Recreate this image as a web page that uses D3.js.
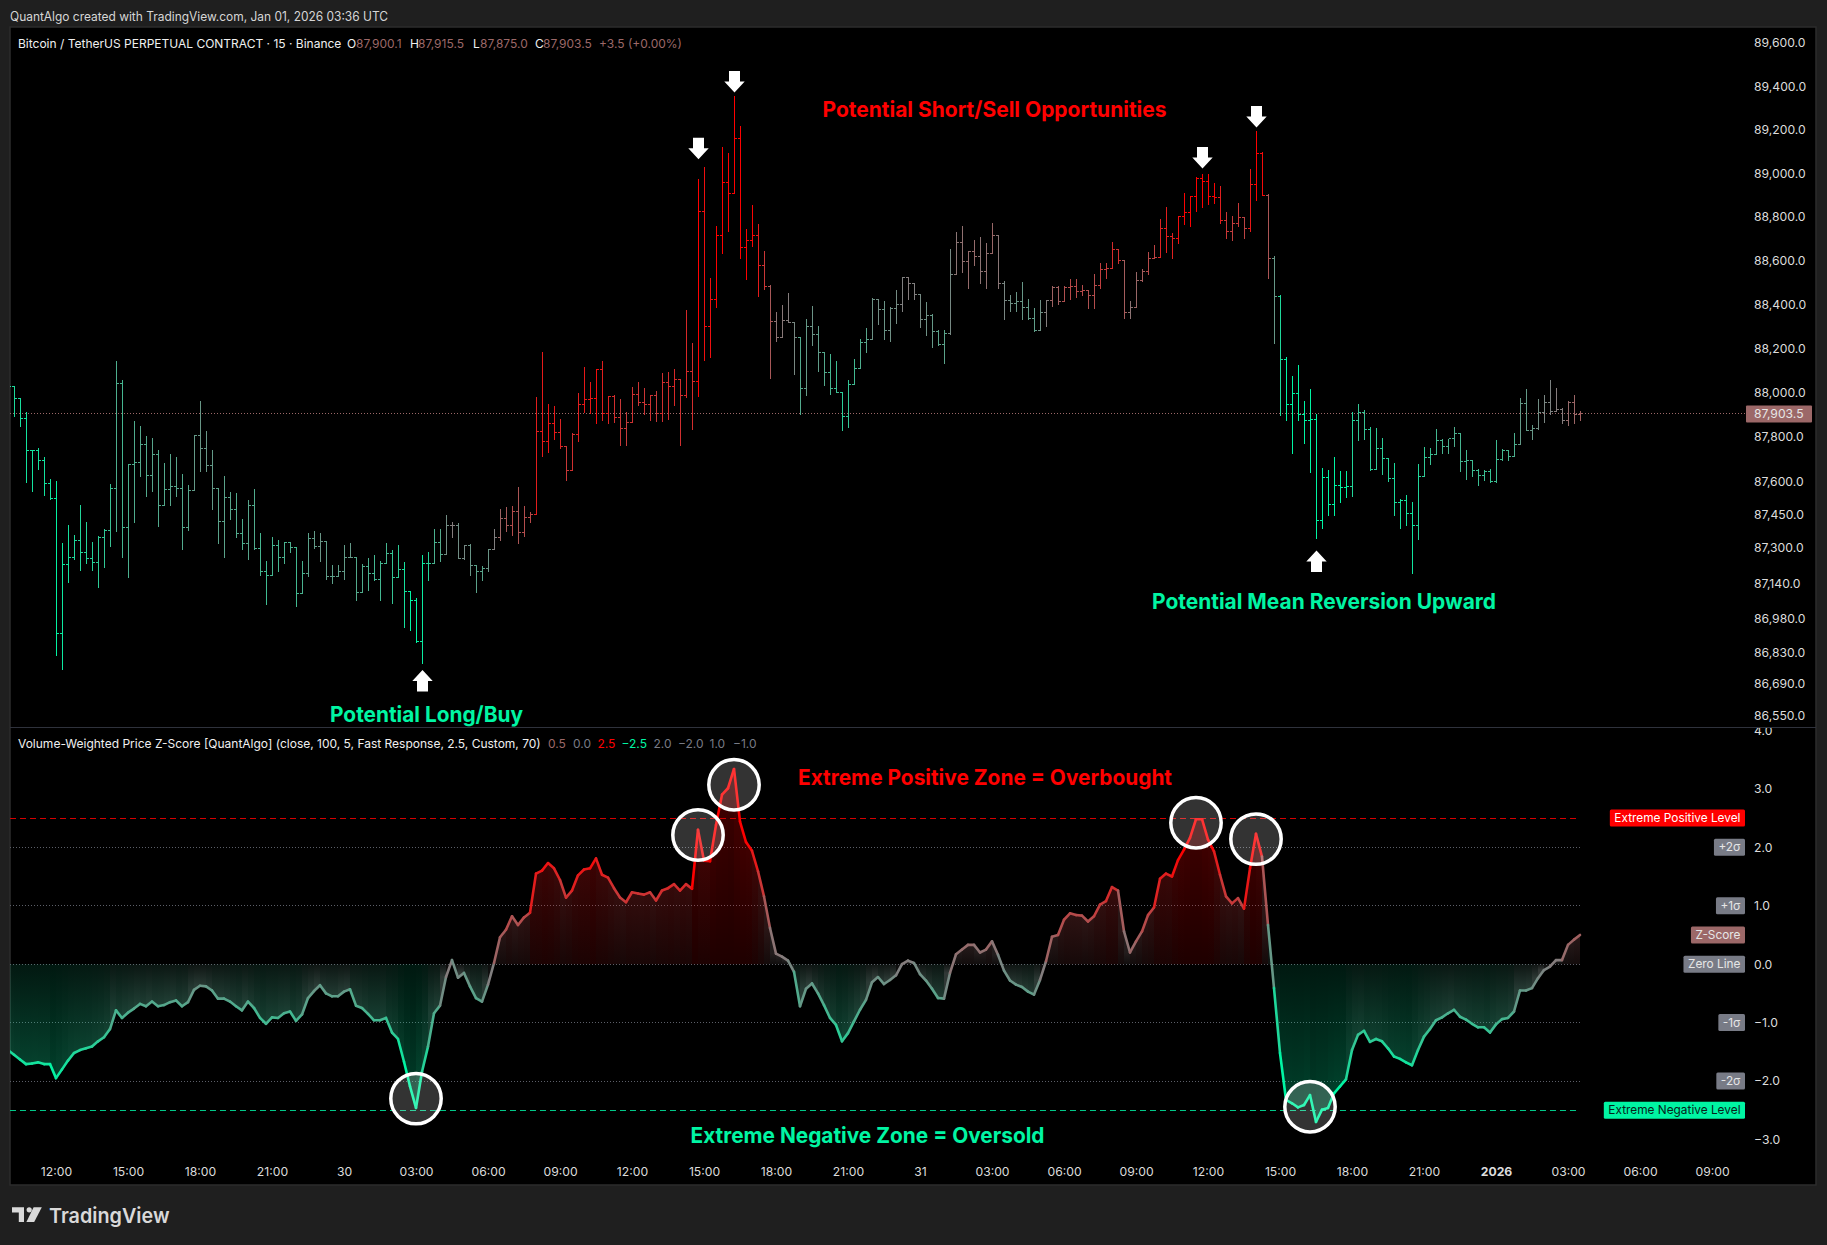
<!DOCTYPE html>
<html>
<head>
<meta charset="utf-8">
<title>BTCUSDT.P with Volume-Weighted Price Z-Score</title>
<script src="https://d3js.org/d3.v7.min.js"></script>
<style>
  html, body { margin: 0; padding: 0; background: #1f1f1f; }
  svg { display: block; font-family: Inter, Roboto, "Noto Sans", sans-serif; }
</style>
</head>
<body>
<svg id="chart" width="1827" height="1245"></svg>
<script>
// 15-minute bars, one row per ten bars
const opens = [
88010,88030,87974,87884,87740,87736,87694,87590,87522,86916,
87225,87257,87333,87279,87252,87234,87347,87378,87567,88042,
87392,87676,87685,87766,87626,87721,87488,87563,87575,87567,
87392,87557,87805,87748,87671,87566,87417,87527,87470,87365,
87320,87491,87295,87194,87176,87311,87257,87324,87302,87095,
87185,87342,87305,87329,87170,87170,87194,87257,87257,87101,
87215,87185,87158,87227,87275,87167,87203,87104,87065,86879,
87230,87230,87324,87270,87401,87401,87252,87309,87221,87194,
87206,87291,87347,87432,87398,87465,87369,87437,87450,87826,
87781,87861,87820,87755,87647,87811,87947,87970,87974,88106,
87906,87981,87886,87838,87865,87992,87956,87947,87985,87906,
88047,88030,88060,87986,88097,88051,88825,88299,88424,88716,
88958,88909,89160,88659,88693,88713,88579,88481,88324,88251,
88328,88319,88251,88020,88301,88263,88183,88092,88020,88001,
87893,88038,88110,88228,88240,88421,88378,88280,88380,88401,
88522,88494,88447,88333,88349,88278,88217,88267,88535,88684,
88595,88643,88619,88551,88634,88716,88497,88419,88406,88415,
88387,88336,88280,88365,88419,88479,88412,88479,88483,88460,
88465,88442,88488,88561,88565,88652,88602,88365,88386,88510,
88550,88611,88613,88748,88711,88702,88801,88818,88891,88977,
88963,88894,88888,88784,88731,88769,88799,88748,88947,89092,
88900,88611,88437,88151,87944,87997,87902,87875,87879,87423,
87617,87495,87581,87573,87576,87875,87911,87835,87653,87748,
87700,87613,87504,87512,87455,87401,87623,87707,87719,87782,
87757,87791,87817,87689,87691,87650,87626,87645,87596,87698,
87740,87710,87767,87952,87828,87836,87908,87957,87913,87924,
87875,87957,87900.1];

const highs = [
88030,88030,87974,87911,87740,87748,87707,87608,87599,87320,
87398,87357,87492,87414,87324,87349,87380,87585,88143,88057,
87676,87871,87845,87803,87793,87736,87680,87722,87707,87632,
87581,87808,87961,87826,87740,87566,87623,87549,87545,87428,
87512,87560,87365,87240,87348,87332,87324,87324,87302,87236,
87362,87375,87365,87329,87222,87222,87308,87320,87257,87225,
87252,87263,87240,87320,87286,87308,87233,87104,87073,87267,
87279,87384,87384,87447,87414,87410,87312,87315,87221,87215,
87294,87384,87474,87480,87484,87572,87484,87459,87979,88183,
87944,87939,87880,87755,87813,87994,88115,88045,88106,88143,
87981,87989,87971,87911,88024,88048,88020,87985,88004,88087,
88090,88107,88060,88375,88221,88969,89028,88519,88757,89119,
89091,89350,89216,88744,88854,88763,88641,88488,88366,88397,
88451,88319,88251,88333,88389,88302,88183,88174,88139,88001,
88057,88148,88242,88293,88427,88421,88415,88387,88462,88524,
88519,88494,88447,88410,88356,88280,88281,88652,88729,88754,
88643,88693,88708,88679,88772,88716,88507,88443,88453,88501,
88425,88383,88419,88419,88480,88480,88481,88512,88516,88488,
88465,88539,88589,88589,88684,88652,88602,88416,88544,88561,
88638,88671,88786,88845,88725,88803,88909,88895,88981,88996,
88992,88955,88937,88818,88804,88859,88799,89019,89189,89096,
88903,88621,88440,88160,88075,88121,87962,88016,87902,87658,
87650,87707,87642,87645,87911,87944,87917,87843,87838,87794,
87703,87680,87515,87533,87504,87676,87752,87745,87834,87789,
87790,87843,87817,87736,87695,87654,87647,87653,87785,87743,
87740,87813,87974,88016,87853,87971,87985,88057,88020,87927,
87959,87989,87915.5];

const lows = [
87966,87891,87845,87593,87552,87654,87537,87515,86819,86755,
87143,87245,87197,87227,87197,87122,87210,87305,87372,87255,
87165,87412,87623,87530,87552,87394,87488,87492,87530,87294,
87376,87557,87642,87642,87470,87317,87255,87425,87345,87294,
87249,87290,87174,87043,87174,87192,87227,87279,87035,87095,
87170,87297,87237,87159,87140,87170,87159,87257,87065,87101,
87107,87155,87065,87227,87050,87167,86941,86928,86876,86782,
87152,87230,87240,87270,87345,87252,87245,87177,87098,87151,
87192,87290,87332,87372,87353,87318,87349,87412,87450,87713,
87728,87789,87748,87602,87647,87778,87908,87906,87858,87873,
87858,87865,87763,87763,87864,87941,87899,87876,87868,87868,
87879,87941,87763,87976,87835,87981,88145,88158,88386,88632,
88732,88909,88608,88513,88665,88436,88469,88063,88231,88251,
88319,88081,87903,87986,88216,88095,88031,87992,88000,87828,
87843,88038,88110,88181,88240,88311,88242,88234,88313,88367,
88424,88421,88295,88258,88204,88213,88131,88266,88535,88545,
88471,88577,88494,88471,88634,88471,88330,88367,88367,88330,
88334,88276,88281,88298,88393,88401,88416,88424,88434,88440,
88381,88381,88471,88519,88565,88588,88336,88336,88386,88506,
88535,88608,88613,88635,88608,88677,88767,88754,88824,88845,
88857,88859,88769,88699,88694,88758,88699,88731,88873,88899,
88518,88225,87895,87873,87724,87876,87769,87638,87343,87385,
87447,87447,87502,87524,87530,87782,87790,87647,87653,87632,
87597,87447,87385,87402,87185,87335,87624,87677,87719,87725,
87725,87758,87645,87608,87620,87579,87605,87594,87593,87695,
87695,87710,87767,87828,87790,87835,87864,87902,87913,87858,
87850,87861,87875];

const closes = [
88030,87974,87884,87740,87736,87694,87590,87522,86916,87225,
87257,87333,87279,87252,87234,87347,87378,87567,88042,87392,
87676,87685,87766,87626,87721,87488,87563,87575,87567,87392,
87557,87805,87748,87671,87566,87417,87527,87470,87365,87320,
87491,87295,87194,87176,87311,87257,87324,87302,87095,87185,
87342,87305,87329,87170,87170,87194,87257,87257,87101,87215,
87185,87158,87227,87275,87167,87203,87104,87065,86879,87230,
87230,87324,87270,87401,87401,87252,87309,87221,87194,87206,
87291,87347,87432,87398,87465,87369,87437,87450,87826,87781,
87861,87820,87755,87647,87811,87947,87970,87974,88106,87906,
87981,87886,87838,87865,87992,87956,87947,87985,87906,88047,
88030,88060,87986,88097,88051,88825,88299,88424,88716,88958,
88909,89160,88659,88693,88713,88579,88481,88324,88251,88328,
88319,88251,88020,88301,88263,88183,88092,88020,88001,87893,
88038,88110,88228,88240,88421,88378,88280,88380,88401,88522,
88494,88447,88333,88349,88278,88217,88267,88535,88684,88595,
88643,88619,88551,88634,88716,88497,88419,88406,88415,88387,
88336,88280,88365,88419,88479,88412,88479,88483,88460,88465,
88442,88488,88561,88565,88652,88602,88365,88386,88510,88550,
88611,88613,88748,88711,88702,88801,88818,88891,88977,88963,
88894,88888,88784,88731,88769,88799,88748,88947,89092,88900,
88611,88437,88151,87944,87997,87902,87875,87879,87423,87617,
87495,87581,87573,87576,87875,87911,87835,87653,87748,87700,
87613,87504,87512,87455,87401,87623,87707,87719,87782,87757,
87791,87817,87689,87691,87650,87626,87645,87596,87698,87740,
87710,87767,87952,87828,87836,87908,87957,87913,87924,87875,
87957,87900.1,87903.5];

// Volume-weighted price z-score, one value per bar
const zScores = [
-1.47,-1.55,-1.63,-1.71,-1.70,-1.68,-1.71,-1.71,-1.95,-1.80,
-1.65,-1.52,-1.47,-1.44,-1.41,-1.32,-1.25,-1.11,-0.79,-0.92,
-0.83,-0.76,-0.68,-0.72,-0.64,-0.72,-0.70,-0.65,-0.62,-0.72,
-0.65,-0.44,-0.37,-0.38,-0.45,-0.59,-0.59,-0.64,-0.72,-0.79,
-0.64,-0.75,-0.92,-1.02,-0.91,-0.92,-0.84,-0.81,-0.97,-0.86,
-0.58,-0.46,-0.36,-0.50,-0.55,-0.55,-0.47,-0.43,-0.71,-0.75,
-0.85,-0.96,-0.96,-0.92,-1.17,-1.28,-1.67,-2.09,-2.46,-1.84,
-1.41,-0.84,-0.71,-0.22,0.07,-0.23,-0.15,-0.38,-0.58,-0.64,
-0.35,0.02,0.46,0.59,0.82,0.67,0.80,0.88,1.55,1.60,
1.73,1.64,1.44,1.14,1.26,1.52,1.62,1.64,1.81,1.53,
1.48,1.30,1.14,1.06,1.23,1.21,1.19,1.23,1.09,1.26,
1.30,1.37,1.26,1.37,1.29,2.30,1.77,1.76,2.38,2.90,
3.01,3.34,2.44,2.09,1.94,1.59,1.16,0.62,0.18,0.13,
0.06,-0.13,-0.72,-0.42,-0.33,-0.50,-0.70,-0.92,-1.04,-1.32,
-1.18,-0.98,-0.78,-0.61,-0.31,-0.22,-0.34,-0.27,-0.19,0,
0.06,0.02,-0.17,-0.28,-0.42,-0.58,-0.59,-0.15,0.17,0.25,
0.33,0.33,0.20,0.25,0.39,0.16,-0.11,-0.28,-0.35,-0.39,
-0.47,-0.52,-0.27,0.05,0.47,0.50,0.76,0.87,0.84,0.83,
0.73,0.82,1.02,1.08,1.32,1.26,0.56,0.20,0.39,0.56,
0.84,0.97,1.46,1.55,1.50,1.78,1.96,2.16,2.48,2.48,
2.13,1.93,1.53,1.16,1.04,1.13,0.95,1.64,2.23,1.84,
0.67,-0.41,-1.52,-2.32,-2.38,-2.45,-2.41,-2.24,-2.70,-2.49,
-2.46,-2.21,-2.09,-1.97,-1.47,-1.21,-1.14,-1.33,-1.28,-1.32,
-1.44,-1.58,-1.62,-1.68,-1.73,-1.47,-1.24,-1.11,-0.96,-0.91,
-0.84,-0.78,-0.90,-0.95,-1.02,-1.08,-1.08,-1.17,-1.03,-0.94,
-0.92,-0.81,-0.45,-0.45,-0.41,-0.24,-0.10,-0.04,0.07,0.07,
0.33,0.42,0.50];

const priceTicks = [89600,89400,89200,89000,88800,88600,88400,88200,88000,87800,87600,87450,87300,87140,86980,86830,86690,86550];
const zTicks = [4,3,2,1,0,-1,-2,-3];
const timeLabels = ["12:00","15:00","18:00","21:00","30","03:00","06:00","09:00","12:00","15:00","18:00","21:00","31","03:00","06:00","09:00","12:00","15:00","18:00","21:00","2026","03:00","06:00","09:00"];
const firstTimeTickBar = 8;
const barsPerTimeTick = 12;
const lastClose = 87903.5;

// Horizontal reference levels of the oscillator pane
const sigmaLevels = [2, 1, 0, -1, -2];
const extremeUpper = 2.5;
const extremeLower = -2.5;

// Pane tags on the oscillator scale
const tagNames = ["Extreme Positive Level", "+2σ", "+1σ", "Z-Score", "Zero Line", "-1σ", "-2σ", "Extreme Negative Level"];
const tagValues = [2.5, 2, 1, 0.5, 0, -1, -2, -2.5];
const tagFills = ["#ff0000", "#787b86", "#787b86", "#9c6868", "#787b86", "#787b86", "#787b86", "#00f5a3"];
const tagInks = ["#ffffff", "#e6e6e6", "#e6e6e6", "#e6e6e6", "#e6e6e6", "#e6e6e6", "#e6e6e6", "#06231a"];

// Swing markers
const sellArrowBars = [115, 121, 199, 208];
const sellArrowTips = [89064, 89371, 89022, 89210];
const buyArrowBars = [69, 218];
const buyArrowTips = [86752, 87288];

// Rings around the extreme readings
const ringBars = [68, 115, 121, 198, 208, 217];
const ringLevels = [-2.30, 2.21, 3.07, 2.42, 2.14, -2.44];

// Captions placed in bar/value space
const priceNotes = ["Potential Short/Sell Opportunities", "Potential Mean Reversion Upward", "Potential Long/Buy"];
const priceNoteBars = [135.75, 190.67, 53.67];
const priceNoteLevels = [89294, 87061, 86556];
const priceNoteInks = ["#ff0000", "#00f5a3", "#00f5a3"];
const zNotes = ["Extreme Positive Zone = Overbought", "Extreme Negative Zone = Oversold"];
const zNoteBars = [131.67, 113.75];
const zNoteLevels = [3.21, -2.92];
const zNoteInks = ["#ff0000", "#00f5a3"];

// Page geometry
const paneLeft = 10, paneRight = 1816, paneTop = 27, paneBottom = 1185, paneSplit = 727;
const scaleTextX = 1754, tagRight = 1745;
const INK = "#dcdcdc", MUTED = "#9c6868", GRAY = "#787b86", TEAL = "#00f5a3", RED = "#ff0000";

const svg = d3.select("#chart");
const defs = svg.append("defs");

const x = d3.scaleLinear().domain([0, 262]).range([8, 1580]);
const yPrice = d3.scaleLog().domain([86550, 89600]).range([715.3, 42.7]);
const yZ = d3.scaleLinear().domain([-3, 4]).range([1139.5, 730.4]);

// Colour runs from neutral grey to red or teal as the reading leaves zero
const toRed = d3.interpolateRgb("#808080", RED);
const toTeal = d3.interpolateRgb("#808080", TEAL);
function zColor(z) {
  const t = Math.min(Math.abs(z) / 2, 1);
  return z >= 0 ? toRed(t) : toTeal(t);
}

// Frame and pane background
svg.append("rect").attr("width", 1827).attr("height", 1245).attr("fill", "#1f1f1f");
svg.append("rect")
  .attr("x", paneLeft).attr("y", paneTop)
  .attr("width", paneRight - paneLeft).attr("height", paneBottom - paneTop)
  .attr("fill", "#000").attr("stroke", "#2c2c2c").attr("stroke-width", 1.5);
svg.append("line")
  .attr("x1", paneLeft).attr("x2", paneRight).attr("y1", paneSplit + 0.5).attr("y2", paneSplit + 0.5)
  .attr("stroke", "#2f323c").attr("stroke-width", 1);

defs.append("clipPath").attr("id", "clipPrice").append("rect")
  .attr("x", paneLeft).attr("y", paneTop).attr("width", paneRight - paneLeft).attr("height", paneSplit - paneTop);
defs.append("clipPath").attr("id", "clipZ").append("rect")
  .attr("x", paneLeft).attr("y", paneSplit + 1).attr("width", paneRight - paneLeft).attr("height", paneBottom - paneSplit - 1);

// Title line above the frame
svg.append("text").attr("x", 10).attr("y", 16).attr("dominant-baseline", "central")
  .attr("font-size", 12.4).attr("fill", "#d6d6d6")
  .attr("textLength", 378).attr("lengthAdjust", "spacingAndGlyphs")
  .text("QuantAlgo created with TradingView.com, Jan 01, 2026 03:36 UTC");

// Symbol legend
const legend = [
  ["Bitcoin / TetherUS PERPETUAL CONTRACT · 15 · Binance", 18, "#f0f0f0"],
  ["O", 347, "#f0f0f0"], ["87,900.1", 356, MUTED],
  ["H", 410, "#f0f0f0"], ["87,915.5", 418, MUTED],
  ["L", 473, "#f0f0f0"], ["87,875.0", 480, MUTED],
  ["C", 535, "#f0f0f0"], ["87,903.5", 543, MUTED],
  ["+3.5 (+0.00%)", 599, MUTED]
];
svg.append("g").selectAll("text").data(legend).join("text")
  .attr("x", d => d[1]).attr("y", 43).attr("dominant-baseline", "central")
  .attr("font-size", 12).attr("fill", d => d[2]).text(d => d[0]);

// Oscillator legend
const zLegend = [
  ["Volume-Weighted Price Z-Score [QuantAlgo] (close, 100, 5, Fast Response, 2.5, Custom, 70)", 18, "#f0f0f0"],
  ["0.5", 548, MUTED], ["0.0", 573, GRAY], ["2.5", 597.5, RED], ["−2.5", 621.5, TEAL],
  ["2.0", 653.5, GRAY], ["−2.0", 678, GRAY], ["1.0", 709.5, GRAY], ["−1.0", 733, GRAY]
];
svg.append("g").selectAll("text").data(zLegend).join("text")
  .attr("x", d => d[1]).attr("y", 743.7).attr("dominant-baseline", "central")
  .attr("font-size", 12).attr("fill", d => d[2]).text(d => d[0]);

// Last-price line
svg.append("line")
  .attr("x1", paneLeft).attr("x2", 1746)
  .attr("y1", Math.floor(yPrice(lastClose)) + 0.5).attr("y2", Math.floor(yPrice(lastClose)) + 0.5)
  .attr("stroke", MUTED).attr("stroke-dasharray", "1 2");

// OHLC bars: open tick to the left, close tick to the right
const px = v => Math.floor(v) + 0.5;
svg.append("g").attr("clip-path", "url(#clipPrice)").attr("shape-rendering", "crispEdges")
  .selectAll("path").data(closes).join("path")
  .attr("fill", "none")
  .attr("stroke", (d, i) => zColor(zScores[i]))
  .attr("d", (d, i) => {
    const cx = Math.round(x(i)) + 0.5;
    return `M${cx},${Math.floor(yPrice(highs[i]))}V${Math.ceil(yPrice(lows[i]))}` +
           `M${cx - 2.5},${px(yPrice(opens[i]))}H${cx}` +
           `M${cx},${px(yPrice(closes[i]))}H${cx + 2.5}`;
  });

// Price scale
const priceAxis = d3.axisRight(yPrice).tickValues(priceTicks).tickSize(0).tickPadding(0)
  .tickFormat(d3.format(",.1f"));
const gPriceAxis = svg.append("g").attr("transform", `translate(${scaleTextX},0)`).call(priceAxis);
gPriceAxis.select(".domain").remove();
gPriceAxis.selectAll("text").attr("font-family", "Inter, Roboto, sans-serif").attr("font-size", 12.2).attr("fill", INK);

// Last-price tag
const lastTag = svg.append("g");
lastTag.append("rect").attr("x", 1746).attr("y", yPrice(lastClose) - 8.5).attr("width", 66).attr("height", 17)
  .attr("rx", 1).attr("fill", MUTED);
lastTag.append("text").attr("x", scaleTextX).attr("y", yPrice(lastClose)).attr("dominant-baseline", "central")
  .attr("font-size", 12.2).attr("fill", "#e6e6e6").text(d3.format(",.1f")(lastClose));

// Oscillator panel content
const zPane = svg.append("g").attr("clip-path", "url(#clipZ)");
const xEnd = x(262);

zPane.append("g").selectAll("line").data(sigmaLevels).join("line")
  .attr("x1", paneLeft).attr("x2", xEnd)
  .attr("y1", d => px(yZ(d))).attr("y2", d => px(yZ(d)))
  .attr("stroke", "#5c5f68").attr("stroke-dasharray", "1 2");

// Column fills between the zero line and the reading; teal columns carry more
// alpha near zero where the colour is still close to grey
const segments = d3.range(zScores.length - 1);
const tOf = i => Math.min(Math.abs(zScores[i + 1]) / 2, 1);
const segDefs = defs.selectAll("linearGradient").data(segments).join("linearGradient")
  .attr("id", i => "seg" + i)
  .attr("gradientUnits", "userSpaceOnUse")
  .attr("x1", 0).attr("x2", 0)
  .attr("y1", yZ(0))
  .attr("y2", i => {
    const z = zScores[i + 1];
    return yZ(Math.abs(z) < 0.05 ? 0.05 : z);
  });
segDefs.append("stop").attr("offset", 0)
  .attr("stop-color", i => zColor(zScores[i + 1]))
  .attr("stop-opacity", i => zScores[i + 1] >= 0 ? 0.12 : 0.15 - 0.05 * tOf(i));
segDefs.append("stop").attr("offset", 1)
  .attr("stop-color", i => zColor(zScores[i + 1]))
  .attr("stop-opacity", i => zScores[i + 1] >= 0 ? 0.25 : 0.42 - 0.16 * tOf(i));

const colArea = d3.area().x(d => x(d)).y0(yZ(0)).y1(d => yZ(zScores[d]));
zPane.append("g").selectAll("path").data(segments).join("path")
  .attr("d", i => colArea([i, i + 1]))
  .attr("fill", i => `url(#seg${i})`);

// Extreme thresholds
zPane.append("line")
  .attr("x1", paneLeft).attr("x2", xEnd).attr("y1", px(yZ(extremeUpper))).attr("y2", px(yZ(extremeUpper)))
  .attr("stroke", "#d40000").attr("stroke-dasharray", "6 4");
zPane.append("line")
  .attr("x1", paneLeft).attr("x2", xEnd).attr("y1", px(yZ(extremeLower))).attr("y2", px(yZ(extremeLower)))
  .attr("stroke", "#00c988").attr("stroke-dasharray", "6 4");

// Z-score line, coloured bar by bar
zPane.append("g").attr("fill", "none").attr("stroke-width", 2.6).attr("stroke-linecap", "round")
  .selectAll("path").data(segments).join("path")
  .attr("d", i => d3.line().x(d => x(d)).y(d => yZ(zScores[d]))([i, i + 1]))
  .attr("stroke", i => zColor(zScores[i + 1]));

// Rings over the line
svg.append("g").selectAll("circle").data(ringBars).join("circle")
  .attr("cx", d => x(d))
  .attr("cy", (d, i) => yZ(ringLevels[i]))
  .attr("r", 25.2)
  .attr("fill", "rgba(255,255,255,0.2)")
  .attr("stroke", "#fff").attr("stroke-width", 3.5);

// Block arrows: sell markers point down at the bar, buy markers point up
function arrowPath(cx, tip, dir) {
  return d3.line()([
    [cx, tip], [cx + 10.2, tip - dir * 11], [cx + 5.5, tip - dir * 11], [cx + 5.5, tip - dir * 21.5],
    [cx - 5.5, tip - dir * 21.5], [cx - 5.5, tip - dir * 11], [cx - 10.2, tip - dir * 11]
  ]) + "Z";
}
const arrows = svg.append("g").attr("fill", "#fff");
arrows.selectAll("path.sell").data(sellArrowBars).join("path").attr("class", "sell")
  .attr("d", (d, i) => arrowPath(x(d) + 0.5, yPrice(sellArrowTips[i]), 1));
arrows.selectAll("path.buy").data(buyArrowBars).join("path").attr("class", "buy")
  .attr("d", (d, i) => arrowPath(x(d) + 0.5, yPrice(buyArrowTips[i]), -1));

// Captions
const noteWidths = { "Potential Short/Sell Opportunities": 344, "Potential Mean Reversion Upward": 344, "Potential Long/Buy": 193,
                     "Extreme Positive Zone = Overbought": 374, "Extreme Negative Zone = Oversold": 354 };
svg.append("g").selectAll("text").data(priceNotes).join("text")
  .attr("x", (d, i) => x(priceNoteBars[i])).attr("y", (d, i) => yPrice(priceNoteLevels[i]))
  .attr("dominant-baseline", "central").attr("font-size", 21.5).attr("font-weight", 700)
  .attr("textLength", d => noteWidths[d]).attr("lengthAdjust", "spacingAndGlyphs")
  .attr("fill", (d, i) => priceNoteInks[i]).text(d => d);
svg.append("g").selectAll("text").data(zNotes).join("text")
  .attr("x", (d, i) => x(zNoteBars[i])).attr("y", (d, i) => yZ(zNoteLevels[i]))
  .attr("dominant-baseline", "central").attr("font-size", 21.5).attr("font-weight", 700)
  .attr("textLength", d => noteWidths[d]).attr("lengthAdjust", "spacingAndGlyphs")
  .attr("fill", (d, i) => zNoteInks[i]).text(d => d);

// Oscillator scale, its top label cut by the pane edge
const zAxis = d3.axisRight(yZ).tickValues(zTicks).tickSize(0).tickPadding(0)
  .tickFormat(d => d3.format(".1f")(d).replace("-", "−"));
const gZAxis = svg.append("g").attr("clip-path", "url(#clipZ)");
const gZInner = gZAxis.append("g").attr("transform", `translate(${scaleTextX},0)`).call(zAxis);
gZInner.select(".domain").remove();
gZInner.selectAll("text").attr("font-family", "Inter, Roboto, sans-serif").attr("font-size", 12.2).attr("fill", INK);

// Level tags
const tags = svg.append("g").selectAll("g").data(tagNames).join("g");
const tagText = tags.append("text")
  .attr("y", (d, i) => yZ(tagValues[i])).attr("dominant-baseline", "central")
  .attr("text-anchor", "end").attr("x", tagRight - 4.5)
  .attr("font-size", 11.85).attr("fill", (d, i) => tagInks[i]).text(d => d);
tags.insert("rect", "text")
  .attr("x", function () { return tagRight - 9 - this.parentNode.querySelector("text").getComputedTextLength(); })
  .attr("width", function () { return 9 + this.parentNode.querySelector("text").getComputedTextLength(); })
  .attr("y", (d, i) => yZ(tagValues[i]) - 8.5).attr("height", 17)
  .attr("rx", 1.5).attr("fill", (d, i) => tagFills[i]);

// Time scale
const timeTicks = timeLabels.map((d, i) => firstTimeTickBar + i * barsPerTimeTick);
const timeAxis = d3.axisBottom(x).tickValues(timeTicks).tickSize(0).tickPadding(0)
  .tickFormat((d, i) => timeLabels[i]);
const gTime = svg.append("g").attr("transform", "translate(0,1167.5)").call(timeAxis);
gTime.select(".domain").remove();
gTime.selectAll("text")
  .attr("font-family", "Inter, Roboto, sans-serif").attr("font-size", 12.2).attr("fill", INK)
  .attr("font-weight", (d, i) => timeLabels[i] === "2026" ? 700 : 400);

// Wordmark in the footer
const logo = svg.append("g").attr("fill", "#d9d9d9");
logo.append("path").attr("d", "M12,1207.3H24V1222H18.8V1212.5H12Z");
logo.append("circle").attr("cx", 29.2).attr("cy", 1209.8).attr("r", 2.6);
logo.append("path").attr("d", "M33.6,1207.3H41.8L34.2,1222H26.4Z");
logo.append("text").attr("x", 49).attr("y", 1215).attr("dominant-baseline", "central")
  .attr("font-size", 20.5).attr("font-weight", 600).attr("textLength", 120.5)
  .attr("lengthAdjust", "spacingAndGlyphs").text("TradingView");
</script>
</body>
</html>
